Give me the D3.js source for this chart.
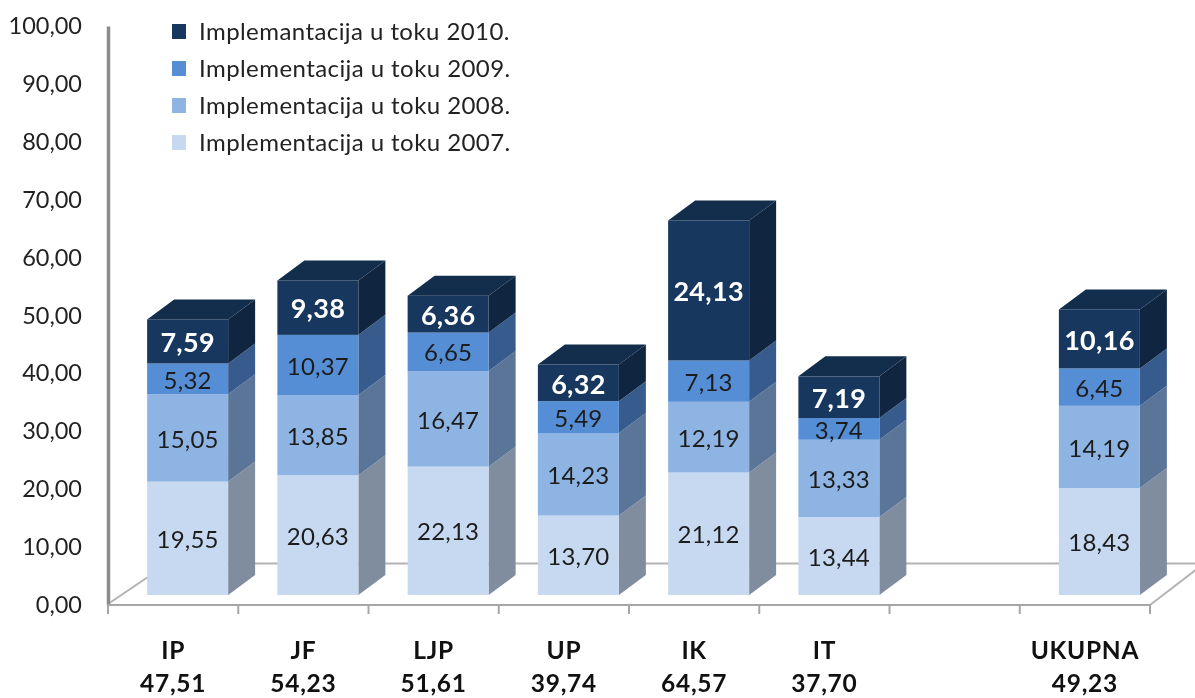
<!DOCTYPE html>
<html><head><meta charset="utf-8">
<script src="https://cdn.jsdelivr.net/npm/d3@7"></script>
<style>html,body{margin:0;background:#fff;overflow:hidden}svg{display:block;filter:blur(0.45px)}text{font-family:Lato,"Open Sans",sans-serif}</style>
</head><body><svg id="c" width="1195" height="698"></svg>
<script>
const categories=["IP","JF","LJP","UP","IK","IT","","UKUPNA"];
const totals=[47.51,54.23,51.61,39.74,64.57,37.70,null,49.23];
const v2007=[19.55,20.63,22.13,13.70,21.12,13.44,null,18.43];
const v2008=[15.05,13.85,16.47,14.23,12.19,13.33,null,14.19];
const v2009=[5.32,10.37,6.65,5.49,7.13,3.74,null,6.45];
const v2010=[7.59,9.38,6.36,6.32,24.13,7.19,null,10.16];
const seriesNames=["Implementacija u toku 2007.","Implementacija u toku 2008.","Implementacija u toku 2009.","Implemantacija u toku 2010."];
const yTicks=[0,10,20,30,40,50,60,70,80,90,100];
const front=["#C6D9F1","#8EB4E3","#558ED5","#17375E"];
const side=["#808D9F","#5B7599","#375B8C","#10253F"];
const topColor="#132D4D";

const loc=d3.formatLocale({decimal:",",thousands:".",grouping:[3],currency:["",""]});
const fmt=loc.format(".2f");
const svg=d3.select("#c");
const x=d3.scaleBand().domain(categories.map((c,i)=>i)).range([108,1150]);
const yAxisScale=d3.scaleLinear().domain([0,100]).range([605,26]);
const y=d3.scaleLinear().domain([0,100]).range([595,15]);
const barW=81, dx=27, dy=20, shift=x.bandwidth()/2-barW/2+14.5;
const barX=i=>x(i)+shift;

// floor
const floor=svg.append("g").attr("fill","none").attr("stroke","#b3b3b3").attr("stroke-width",2);
floor.append("path").attr("d","M108,604L168,563.5L1195,563.5");
floor.append("path").attr("d","M1150,605L1197,569");

// bars
const rows=categories.map((c,i)=>({i,a:v2007[i],b:v2008[i],c:v2009[i],d:v2010[i]})).filter(r=>r.a!=null);
const stacked=d3.stack().keys(["a","b","c","d"])(rows);
const barsG=svg.append("g");
rows.forEach((r,ri)=>{
  const g=barsG.append("g");
  stacked.forEach((s,k)=>{
    const [v0,v1]=s[ri];
    const X=barX(r.i),y0=y(v0),y1=y(v1);
    g.append("path").attr("fill",side[k])
      .attr("d",d3.line()([[X+barW,y0],[X+barW+dx,y0-dy],[X+barW+dx,y1-dy],[X+barW,y1]])+"Z");
    g.append("rect").attr("x",X).attr("y",y1).attr("width",barW).attr("height",y0-y1).attr("fill",front[k]);
    if(k===3) g.append("path").attr("fill",topColor)
      .attr("d",d3.line()([[X,y1],[X+dx,y1-dy],[X+barW+dx,y1-dy],[X+barW,y1]])+"Z");
    g.append("text").attr("x",X+barW/2).attr("y",(y0+y1)/2+(k===3?1:1)).attr("dy","0.36em")
      .attr("text-anchor","middle")
      .attr("font-size",k===3?27:24).attr("font-weight",k===3?700:400)
      .attr("letter-spacing",k===3?0.3:0.2)
      .attr("fill",k===3?"#fff":"#1c1c1c").text(fmt(s[ri].data[["a","b","c","d"][k]]));
  });
});

// y axis
const ya=svg.append("g").attr("transform","translate(108,0)")
  .call(d3.axisLeft(yAxisScale).tickValues(yTicks).tickSize(0).tickPadding(26).tickFormat(fmt));
ya.select(".domain").attr("stroke","#8c8c8c").attr("stroke-width",3.5);
ya.selectAll("text").attr("font-size",23.5).attr("fill","#222");

// x axis
const xLine=svg.append("g").attr("stroke","#a6a6a6").attr("stroke-width",2);
xLine.append("line").attr("x1",107).attr("x2",1150).attr("y1",605).attr("y2",605);
categories.forEach((c,i)=>xLine.append("line").attr("x1",x(i)).attr("x2",x(i)).attr("y1",605).attr("y2",614));
xLine.append("line").attr("x1",1150).attr("x2",1150).attr("y1",605).attr("y2",614);

const lab=svg.append("g").attr("text-anchor","middle").attr("font-weight",700).attr("font-size",24.5).attr("letter-spacing",0.7).attr("fill","#111");
categories.forEach((c,i)=>{
  if(!c) return;
  lab.append("text").attr("x",x(i)+x.bandwidth()/2).attr("y",659).text(c);
  lab.append("text").attr("x",x(i)+x.bandwidth()/2).attr("y",692).text(fmt(totals[i]));
});

// legend
const legendY=d3.scalePoint().domain([3,2,1,0]).range([31,142]);
const lg=svg.append("g");
[3,2,1,0].forEach(k=>{
  lg.append("rect").attr("x",172).attr("y",legendY(k)-7).attr("width",14).attr("height",15).attr("fill",front[k]);
  lg.append("text").attr("x",199).attr("y",legendY(k)).attr("dy","0.36em").attr("font-size",24).attr("letter-spacing",0.43).attr("fill","#222").text(seriesNames[k]);
});
</script></body></html>
